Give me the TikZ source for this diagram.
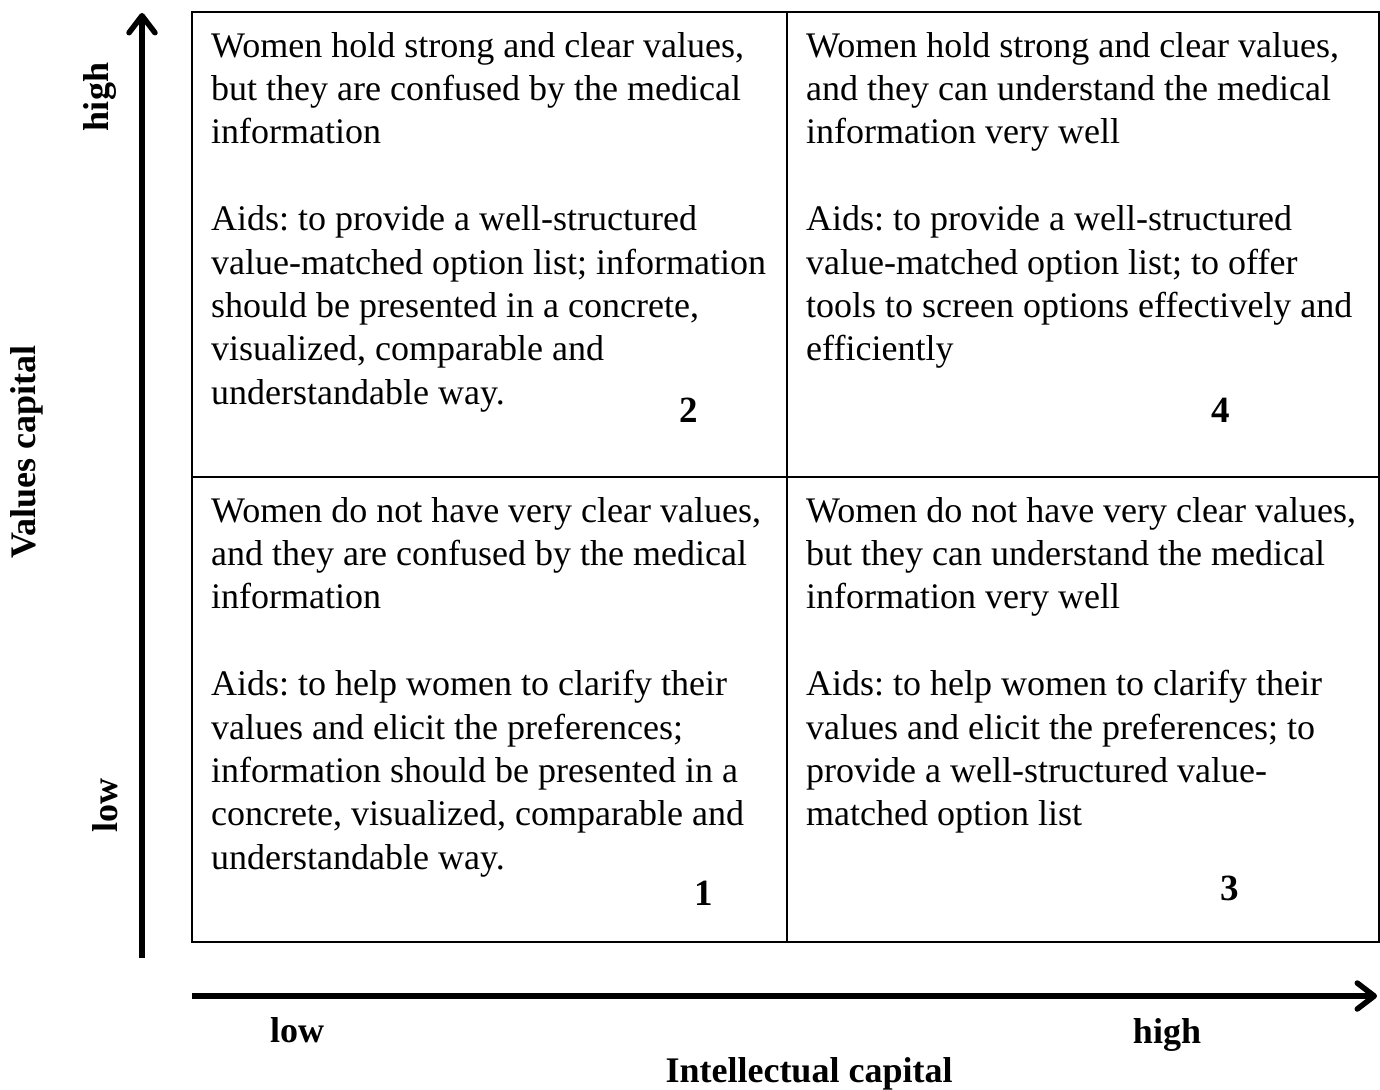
\documentclass[tikz,border=0pt]{standalone}
\usepackage{fontspec}
\setmainfont{Liberation Serif}
\usetikzlibrary{arrows.meta}
\frenchspacing
\begin{document}
\begin{tikzpicture}[x=1pt,y=-1pt,
  cell/.style={anchor=north west,inner sep=0pt,align=left,font=\fontsize{36}{43.4}\selectfont},
  num/.style={inner sep=0pt,font=\fontsize{37}{43}\selectfont\bfseries},
  lab/.style={inner sep=0pt,font=\fontsize{36}{43}\selectfont\bfseries},
  axis/.style={line width=5.5pt,-{Straight Barb[length=17pt,width=26pt,round]}},
  grid/.style={line width=2.2pt}]
\useasboundingbox (0,0) rectangle (1380,1089);
% grid
\coordinate (tl) at (192,12);
\coordinate (br) at (1379,942);
\coordinate (mt) at (787,12);
\coordinate (mb) at (787,942);
\coordinate (ml) at (192,477);
\coordinate (mr) at (1379,477);
\draw[grid] (tl) rectangle (br);
\draw[grid] (mt) -- (mb);
\draw[grid] (ml) -- (mr);
% axes
\coordinate (vs) at (142,958);
\coordinate (ve) at (142,13);
\coordinate (hs) at (192,996);
\coordinate (he) at (1377,996);
\draw[axis] (vs) -- (ve);
\draw[axis] (hs) -- (he);
% cells
\node[cell] (c2) at (211,32) {Women hold strong and clear values,\\
but they are confused by the medical\\
information\\[43.4pt]
Aids: to provide a well-structured\\
value-matched option list; information\\
should be presented in a concrete,\\
visualized, comparable and\\
understandable way.};
\node[cell] (c4) at (806,32) {Women hold strong and clear values,\\
and they can understand the medical\\
information very well\\[43.4pt]
Aids: to provide a well-structured\\
value-matched option list; to offer\\
tools to screen options effectively and\\
efficiently};
\node[cell] (c1) at (211,497) {Women do not have very clear values,\\
and they are confused by the medical\\
information\\[43.4pt]
Aids: to help women to clarify their\\
values and elicit the preferences;\\
information should be presented in a\\
concrete, visualized, comparable and\\
understandable way.};
\node[cell] (c3) at (806,497) {Women do not have very clear values,\\
but they can understand the medical\\
information very well\\[43.4pt]
Aids: to help women to clarify their\\
values and elicit the preferences; to\\
provide a well-structured value-\\
matched option list};
% numbers
\node[num] (n2) at (689,410) {2};
\node[num] (n4) at (1221,410) {4};
\node[num] (n1) at (704,893) {1};
\node[num] (n3) at (1230,888) {3};
% axis labels
\node[lab,rotate=90] (yh) at (100,97) {high};
\node[lab,rotate=90] (yl) at (105,805) {low};
\node[lab,rotate=90] (yt) at (27,452) {Values capital};
\node[lab] (xl) at (297,1030) {low};
\node[lab] (xh) at (1167,1035) {high};
\node[lab] (xt) at (809,1074) {Intellectual capital};
\end{tikzpicture}
\end{document}
